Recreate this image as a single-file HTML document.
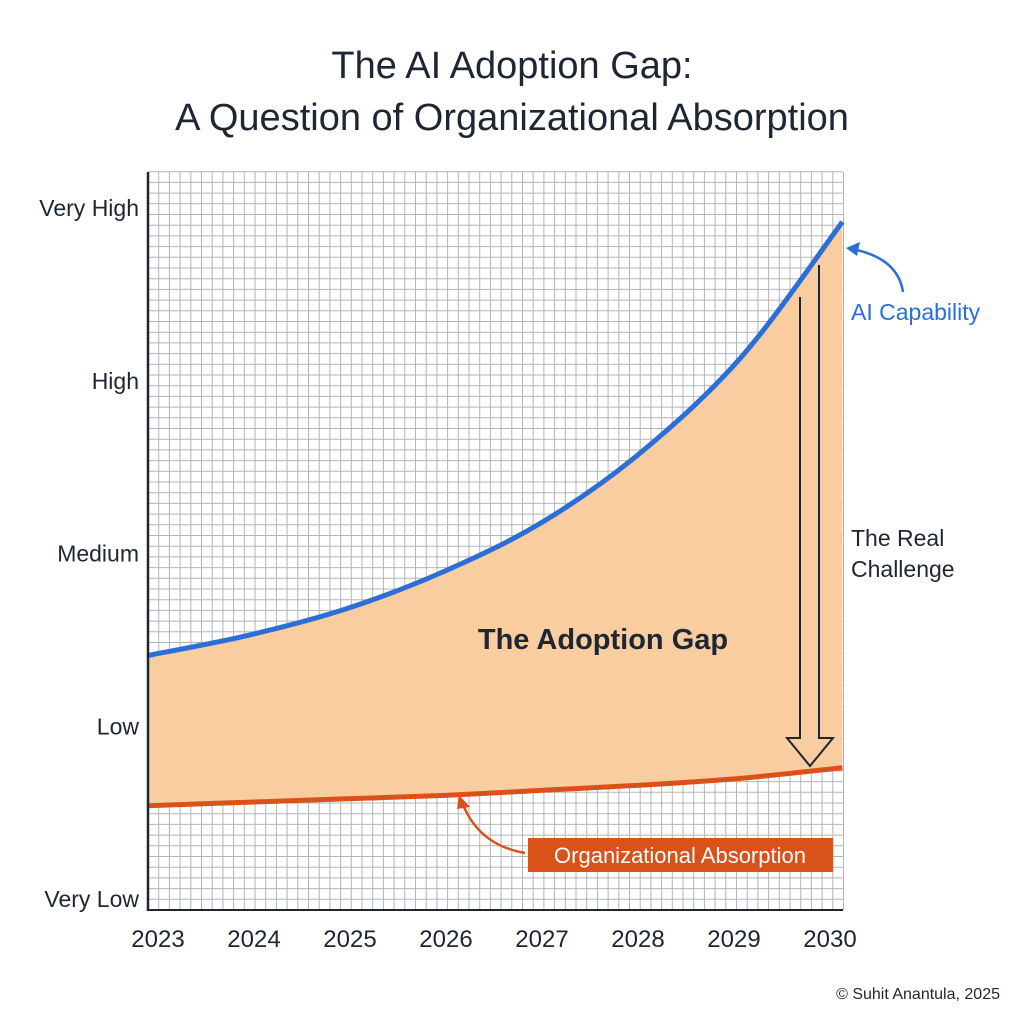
<!DOCTYPE html>
<html><head><meta charset="utf-8"><style>
body{margin:0;background:#fff;}
svg{display:block;font-family:"Liberation Sans",Arial,sans-serif;}
</style></head><body>
<svg id="c" width="1024" height="1024">
<text x="512" y="78" text-anchor="middle" font-size="38" fill="#1e2633">The AI Adoption Gap:</text>
<text x="512" y="130" text-anchor="middle" font-size="38" fill="#1e2633">A Question of Organizational Absorption</text>
<g id="grid"></g>
<g id="marks"></g>
<line x1="148" y1="172" x2="148" y2="911" stroke="#1e2633" stroke-width="2.5"/>
<line x1="147" y1="910" x2="843" y2="910" stroke="#1e2633" stroke-width="2"/>
<g id="yticks"></g><g id="xticks"></g>
<text x="603" y="649" text-anchor="middle" font-size="29" font-weight="bold" fill="#1e2633">The Adoption Gap</text>
<text x="851" y="546" font-size="23" fill="#1e2633">The Real</text>
<text x="851" y="577" font-size="23" fill="#1e2633">Challenge</text>
<text x="851" y="320" font-size="23" fill="#2b6fd6">AI Capability</text>
<path d="M903 292 Q898 258 852 249" fill="none" stroke="#2b6fd6" stroke-width="2.5"/>
<path d="M846 248 L860 242 L857 256 Z" fill="#2b6fd6"/>
<rect x="528" y="838" width="305" height="34" fill="#d9521a"/>
<text x="680" y="863" text-anchor="middle" font-size="22" fill="#fff">Organizational Absorption</text>
<path d="M525 853 Q478 845 462 802" fill="none" stroke="#d9521a" stroke-width="2.5"/>
<path d="M459 795 L470 807 L457 809 Z" fill="#d9521a"/>
<path d="M800 297 V738 H787 L810 766 L833 738 H819 V265" fill="none" stroke="#1e2633" stroke-width="2"/>
<text x="1000" y="999" text-anchor="end" font-size="16" fill="#1e2633">© Suhit Anantula, 2025</text>
</svg>
<script>
const years=[2023,2024,2025,2026,2027,2028,2029,2030];
const aiCapability=[1.41,1.525,1.68,1.9,2.19,2.6,3.15,3.92];
const orgAbsorption=[0.54,0.56,0.58,0.6,0.63,0.66,0.7,0.76];
const yLevels=["Very Low","Low","Medium","High","Very High"];
const xTicks=[2023,2024,2025,2026,2027,2028,2029,2030];
const X=v=>148+(v-2023)*99.2;
const Y=v=>899-v*172.75;
const ns="http://www.w3.org/2000/svg";
function el(t,a,p){const e=document.createElementNS(ns,t);for(const k in a)e.setAttribute(k,a[k]);p.appendChild(e);return e;}
const g=document.getElementById("grid");
let gd="";
for(let x=148+10.7;x<=844;x+=10.7)gd+=`M${x.toFixed(1)} 172V910`;
for(let y=910-10.7;y>=171;y-=10.7)gd+=`M148 ${y.toFixed(1)}H843`;
el("path",{d:gd,stroke:"#b2b5ba","stroke-width":1,fill:"none"},g);
function segs(pts){let d="";for(let i=0;i<pts.length-1;i++){const p0=pts[i-1]||pts[i],p1=pts[i],p2=pts[i+1],p3=pts[i+2]||p2;
d+=` C${p1[0]+(p2[0]-p0[0])/6} ${p1[1]+(p2[1]-p0[1])/6} ${p2[0]-(p3[0]-p1[0])/6} ${p2[1]-(p3[1]-p1[1])/6} ${p2[0]} ${p2[1]}`;}return d;}
const m=document.getElementById("marks");
const a=years.map((y,i)=>[X(y),Y(aiCapability[i])]);
const o=years.map((y,i)=>[X(y),Y(orgAbsorption[i])]);
const ro=o.slice().reverse();
const gap=el("path",{d:"M"+a[0]+segs(a)+" L"+ro[0]+segs(ro)+" Z",fill:"#f9cd9f"},m);


const la=el("path",{d:"M"+a[0]+segs(a),fill:"none",stroke:"#2b6fd6","stroke-width":5},m);


const lo=el("path",{d:"M"+o[0]+segs(o),fill:"none",stroke:"#d9521a","stroke-width":5},m);


const yt=document.getElementById("yticks");
yLevels.forEach((l,i)=>{const t=el("text",{x:139,y:Y(i)+8,"text-anchor":"end","font-size":23,fill:"#1e2633"},yt);t.textContent=l;

});
const xt=document.getElementById("xticks");
xTicks.forEach((yr,i)=>{const t=el("text",{x:158+i*96,y:947,"text-anchor":"middle","font-size":24,fill:"#1e2633"},xt);t.textContent=yr;

});
</script>
</body></html>
